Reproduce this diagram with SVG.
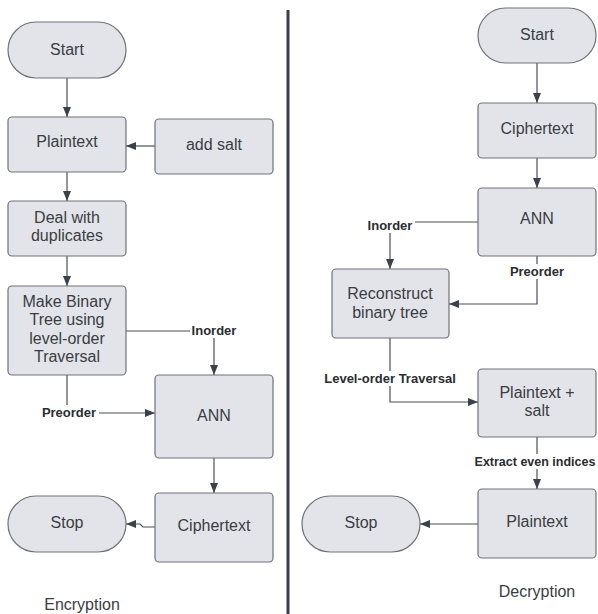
<svg xmlns="http://www.w3.org/2000/svg" width="598" height="614" viewBox="0 0 598 614">
<defs>
<style>
.n{fill:#e2e4e9;stroke:#6e7278;stroke-width:1.2}
.t{font-family:"Liberation Sans",Arial,sans-serif;font-size:16px;fill:#3a3d42;text-anchor:middle}
.c{fill:none;stroke:#4a4f57;stroke-width:1.2}
.l{font-family:"Liberation Sans",Arial,sans-serif;font-size:13px;font-weight:bold;fill:#2a2d31;text-anchor:middle}
.bg{fill:#ffffff}
</style>
<marker id="ah" markerUnits="userSpaceOnUse" markerWidth="12" markerHeight="10" refX="10" refY="5" orient="auto">
<path d="M0,1 L10,5 L0,9 Z" fill="#3a414a"/>
</marker>
</defs>
<rect width="598" height="614" fill="#ffffff"/>
<line x1="288" y1="10" x2="288" y2="614" stroke="#3a3f47" stroke-width="3"/>

<g id="connectors">
<path class="c" d="M67,78 V117" marker-end="url(#ah)"/>
<path class="c" d="M155,146 H126" marker-end="url(#ah)"/>
<path class="c" d="M67,172 V201" marker-end="url(#ah)"/>
<path class="c" d="M67,256 V286" marker-end="url(#ah)"/>
<path class="c" d="M126,331 H214 V375" marker-end="url(#ah)"/>
<path class="c" d="M67,375 V413 H155" marker-end="url(#ah)"/>
<path class="c" d="M214,458 V493" marker-end="url(#ah)"/>
<path class="c" d="M155,527 H143 L140,524 H126" marker-end="url(#ah)"/>

<path class="c" d="M537,63 V103" marker-end="url(#ah)"/>
<path class="c" d="M537,158 V188" marker-end="url(#ah)"/>
<path class="c" d="M478,222 H390 V269" marker-end="url(#ah)"/>
<path class="c" d="M537,256 V304 H449" marker-end="url(#ah)"/>
<path class="c" d="M390,338 V402 H478" marker-end="url(#ah)"/>
<path class="c" d="M537,437 V489" marker-end="url(#ah)"/>
<path class="c" d="M478,524 H420" marker-end="url(#ah)"/>

<rect class="bg" x="190" y="323" width="49" height="15"/>
<text class="l" x="214" y="335">Inorder</text>
<rect class="bg" x="39" y="405" width="60" height="15"/>
<text class="l" x="69" y="417">Preorder</text>
<rect class="bg" x="365" y="218" width="50" height="15"/>
<text class="l" x="390" y="230">Inorder</text>
<rect class="bg" x="506" y="264" width="62" height="15"/>
<text class="l" x="537" y="276">Preorder</text>
<rect class="bg" x="321" y="371" width="138" height="15"/>
<text class="l" x="390" y="383">Level-order Traversal</text>
<rect class="bg" x="472" y="454" width="126" height="15"/>
<text class="l" x="535" y="466" style="font-size:12.5px">Extract even indices</text>
</g>

<g id="enc-start"><rect class="n" x="8" y="22" width="118" height="56" rx="28"/><text class="t" x="67" y="55">Start</text></g>
<g id="enc-plaintext"><rect class="n" x="8" y="117" width="118" height="55" rx="4"/><text class="t" x="67" y="147">Plaintext</text></g>
<g id="enc-salt"><rect class="n" x="155" y="119" width="118" height="55" rx="4"/><text class="t" x="214" y="150">add salt</text></g>
<g id="enc-dedup"><rect class="n" x="8" y="201" width="118" height="55" rx="4"/><text class="t" x="67" y="223">Deal with</text><text class="t" x="67" y="241">duplicates</text></g>
<g id="enc-tree"><rect class="n" x="8" y="286" width="118" height="89" rx="4"/><text class="t" x="67" y="307">Make Binary</text><text class="t" x="67" y="325">Tree using</text><text class="t" x="67" y="344">level-order</text><text class="t" x="67" y="362">Traversal</text></g>
<g id="enc-ann"><rect class="n" x="155" y="375" width="118" height="83" rx="4"/><text class="t" x="214" y="421">ANN</text></g>
<g id="enc-cipher"><rect class="n" x="155" y="493" width="118" height="69" rx="4"/><text class="t" x="214" y="531">Ciphertext</text></g>
<g id="enc-stop"><rect class="n" x="8" y="496" width="118" height="56" rx="28"/><text class="t" x="67" y="528">Stop</text></g>
<text class="t" x="82" y="610">Encryption</text>

<g id="dec-start"><rect class="n" x="478" y="8" width="118" height="55" rx="27.5"/><text class="t" x="537" y="40">Start</text></g>
<g id="dec-cipher"><rect class="n" x="478" y="103" width="118" height="55" rx="4"/><text class="t" x="537" y="134">Ciphertext</text></g>
<g id="dec-ann"><rect class="n" x="478" y="188" width="118" height="68" rx="4"/><text class="t" x="537" y="224">ANN</text></g>
<g id="dec-reconstruct"><rect class="n" x="332" y="269" width="117" height="69" rx="4"/><text class="t" x="390" y="299">Reconstruct</text><text class="t" x="390" y="318">binary tree</text></g>
<g id="dec-plainsalt"><rect class="n" x="478" y="369" width="118" height="68" rx="4"/><text class="t" x="537" y="398">Plaintext +</text><text class="t" x="537" y="416">salt</text></g>
<g id="dec-plaintext"><rect class="n" x="478" y="489" width="118" height="69" rx="4"/><text class="t" x="537" y="527">Plaintext</text></g>
<g id="dec-stop"><rect class="n" x="302" y="496" width="118" height="56" rx="28"/><text class="t" x="361" y="528">Stop</text></g>
<text class="t" x="537" y="597">Decryption</text>
</svg>
